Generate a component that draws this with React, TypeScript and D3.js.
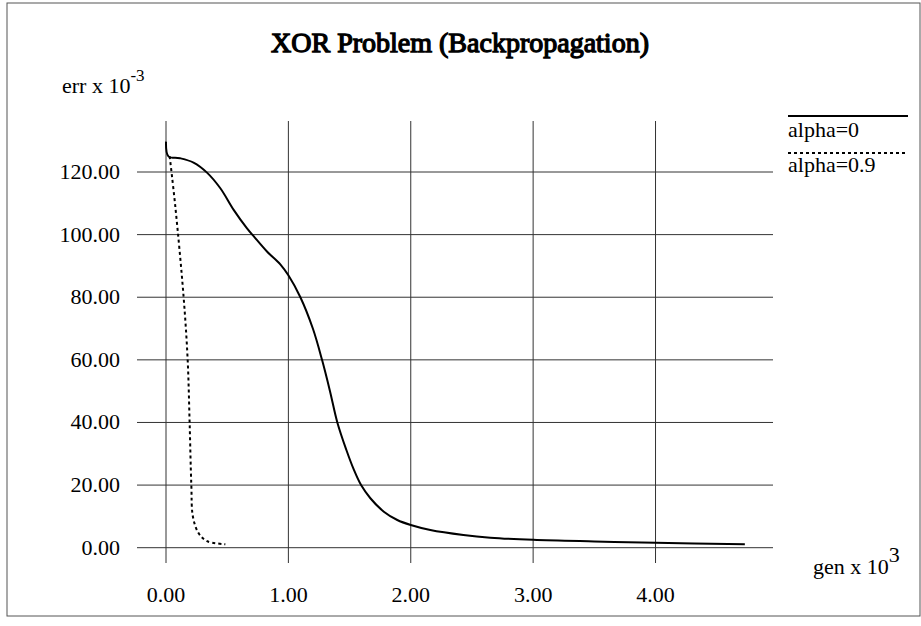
import * as d3 from "d3";

// alpha=0 run (gen in thousands, err x 10^-3)
const genAlpha0 = [0, 0.02, 0.115, 0.225, 0.335, 0.444, 0.553, 0.662, 0.716, 0.825, 0.934, 1.0, 1.098, 1.2, 1.275, 1.34, 1.4, 1.474, 1.534, 1.594, 1.67, 1.78, 1.89, 2.0, 2.16, 2.43, 2.65, 3.0, 3.5, 4.0, 4.73];
const errAlpha0 = [129.7, 125, 124.4, 123, 119.8, 114.8, 107.9, 102, 99.5, 94.6, 90.5, 87, 80, 70, 60, 50, 40, 31.2, 25, 20, 15.8, 11.5, 8.85, 7.25, 5.65, 4.06, 3.2, 2.5, 2.0, 1.6, 1.1];

// alpha=0.9 run
const genAlpha09 = [0.03, 0.076, 0.144, 0.177, 0.193, 0.207, 0.22, 0.267, 0.335, 0.485];
const errAlpha09 = [125, 109, 80, 60, 40, 20, 9.9, 4.6, 2.1, 1.1];

const xTicks = [0, 1, 2, 3, 4];
const yTicks = [0, 20, 40, 60, 80, 100, 120];
const legendLabels = ["alpha=0", "alpha=0.9"];

const W = 921;
const H = 626;
const font = "Liberation Serif, Times New Roman, serif";

export default function App() {
  const x = d3.scaleLinear().domain([0, 4.96]).range([166, 773]);
  const y = d3.scaleLinear().domain([0, 120]).range([547.7, 172]);

  const tickLeft = 137;
  const gridTop = 121;
  const tickBottom = 563;

  const line = d3
    .line<[number, number]>()
    .x((d) => x(d[0]))
    .y((d) => y(d[1]))
    .curve(d3.curveCatmullRom.alpha(0.5));

  const solid = line(genAlpha0.map((g, i) => [g, errAlpha0[i]] as [number, number]));
  const dotted = line(genAlpha09.map((g, i) => [g, errAlpha09[i]] as [number, number]));

  return (
    <div style={{ position: "absolute", left: 0, top: 0 }}>
      <svg width={W} height={H} style={{ display: "block", background: "#fff", fontFamily: font }}>
        <rect x={7} y={3} width={913} height={613} fill="#fff" stroke="#555" strokeWidth={1} />

        {/* no bold serif face installed: fake the weight with a thin stroke */}
        <text x={460} y={52} textAnchor="middle" fontSize={28} stroke="#000" strokeWidth={1.3}>
          XOR Problem (Backpropagation)
        </text>

        <text x={62} y={93} fontSize={22}>
          err x 10<tspan dy={-12} fontSize={17}>-3</tspan>
        </text>

        {/* grid */}
        {yTicks.map((t) => (
          <line key={"h" + t} x1={tickLeft} x2={773} y1={y(t)} y2={y(t)} stroke="#333" strokeWidth={1} />
        ))}
        {xTicks.map((t) => (
          <line key={"v" + t} x1={x(t)} x2={x(t)} y1={gridTop} y2={tickBottom} stroke="#333" strokeWidth={1} />
        ))}

        {yTicks.map((t) => (
          <text key={"yl" + t} x={120} y={y(t) + 7} textAnchor="end" fontSize={22}>
            {d3.format(".2f")(t)}
          </text>
        ))}
        {xTicks.map((t) => (
          <text key={"xl" + t} x={x(t)} y={602} textAnchor="middle" fontSize={22}>
            {d3.format(".2f")(t)}
          </text>
        ))}

        <text x={813} y={574} fontSize={22}>
          gen x 10<tspan dy={-12} fontSize={22}>3</tspan>
        </text>

        <path d={solid ?? ""} fill="none" stroke="#000" strokeWidth={2} />
        <path d={dotted ?? ""} fill="none" stroke="#000" strokeWidth={2} strokeDasharray="3,3" />

        {/* legend */}
        <line x1={788} x2={908} y1={116} y2={116} stroke="#000" strokeWidth={2} />
        <text x={788} y={137} fontSize={22}>{legendLabels[0]}</text>
        <line x1={788} x2={906} y1={153} y2={153} stroke="#000" strokeWidth={2} strokeDasharray="3,3" />
        <text x={788} y={172} fontSize={22}>{legendLabels[1]}</text>
      </svg>
    </div>
  );
}
